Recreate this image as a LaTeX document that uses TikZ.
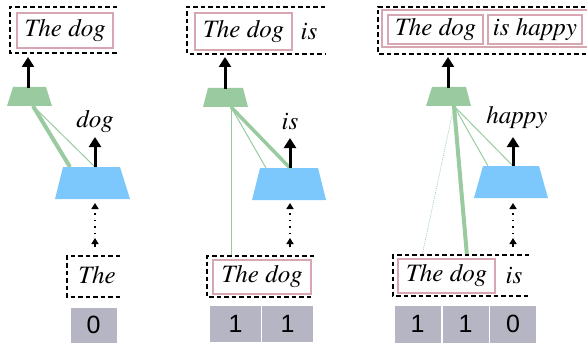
\documentclass[tikz,border=0pt]{standalone}
\usepackage[T1]{fontenc}
\usepackage{fontspec}
\newfontfamily\digitfont{Liberation Sans}
\newcommand\tmsit{\fontencoding{T1}\fontfamily{ptm}\fontshape{it}\selectfont}
\usetikzlibrary{arrows.meta}
\definecolor{gr}{HTML}{9ACBA0}
\definecolor{bl}{HTML}{7CC8FC}
\definecolor{pk}{HTML}{D6A7B0}
\definecolor{cellgray}{HTML}{B5B5C4}
\begin{document}
\begin{tikzpicture}[x=1pt,y=-1pt,
  txt/.style={font=\tmsit\fontsize{25}{30}\selectfont, inner sep=0pt},
  pinkbox/.style={draw=pk, line width=1.6pt, inner sep=0pt, font=\tmsit\fontsize{25}{30}\selectfont},
  dbox/.style={draw=black, line width=2pt, dash pattern=on 4.5pt off 3pt},
  cell/.style={fill=cellgray, draw=white, line width=1pt, inner sep=0pt, font=\digitfont\fontsize{25}{30}\selectfont},
  bigarrow/.style={line width=3pt, -{Triangle[length=10pt,width=12pt]}},
  dotline/.style={line width=1.5pt, dash pattern=on 1.5pt off 5pt, -{Triangle[length=6pt,width=7pt]}},
  smallarrow/.style={line width=1.5pt, -{Triangle[length=6pt,width=7pt]}},
  thick gr/.style={draw=gr, line width=4pt},
  thin gr/.style={draw=gr, line width=1pt},
  hair gr/.style={draw=gr, line width=0.6pt, dash pattern=on 1pt off 1pt}
]
\useasboundingbox (0,0) rectangle (587,345);
\clip (0,0) rectangle (587,345);

% ================= Panel 1 =================
\draw[dbox] (117,7) -- (10,7) -- (10,53) -- (117,53);
\node[pinkbox, minimum width=96pt, minimum height=35pt] (top1) at (65,30.5) {The dog};
\fill[gr] (13,87) -- (46,87) -- (52,106) -- (7,106) -- cycle;
\coordinate (g1t) at (28,88);
\coordinate (g1b) at (33,106);
\fill[bl] (63,167) -- (120,167) -- (130,199) -- (55,199) -- cycle;
\coordinate (b1l) at (70,167);
\coordinate (b1r) at (95,167);
\draw[thick gr] (g1b) -- (b1l);
\draw[thin gr] (g1b) -- (b1r);
\draw[bigarrow] (g1t) -- (28,57);
\draw[bigarrow] (b1r) -- (95,137);
\node[txt, anchor=base] (o1) at (95,128) {dog};
\coordinate (d1s) at (95,247);
\draw[dotline] (d1s) -- (95,203);
\draw[smallarrow] (d1s) -- (95,238);
\draw[dbox] (120,256) -- (67,256) -- (67,297) -- (120,297);
\node[txt, anchor=base] (in1) at (97,283) {The};
\node[cell, minimum width=47pt, minimum height=36pt] (c10) at (93.5,325) {0};

% ================= Panel 2 =================
\draw[dbox] (325,7) -- (187,7) -- (187,54) -- (325,54);
\node[pinkbox, minimum width=97pt, minimum height=37pt] (top2) at (243.5,31.5) {The dog};
\node[txt, anchor=base] (top2b) at (309,40) {is};
\fill[gr] (208,88) -- (243,88) -- (248,107) -- (203,107) -- cycle;
\coordinate (g2t) at (225,89);
\coordinate (g2b) at (231,107);
\fill[bl] (260,168) -- (318,168) -- (326,200) -- (252,200) -- cycle;
\coordinate (b2l) at (266,168);
\coordinate (b2r) at (290,168);
\coordinate (in2t) at (231,257);
\draw[thin gr] (g2b) -- (in2t);
\draw[thin gr] (g2b) -- (b2l);
\draw[draw=gr, line width=3.5pt] (g2b) -- (b2r);
\draw[bigarrow] (g2t) -- (225,57);
\draw[bigarrow] (b2r) -- (290,138);
\node[txt, anchor=base] (o2) at (290,129) {is};
\coordinate (d2s) at (290,247);
\draw[dotline] (d2s) -- (290,203);
\draw[smallarrow] (d2s) -- (290,238);
\draw[dbox] (314,256) -- (207,256) -- (207,297) -- (314,297);
\node[pinkbox, minimum width=98pt, minimum height=34pt] (in2) at (262,277) {The dog};
\node[cell, minimum width=52pt, minimum height=37pt] (c20) at (235.5,323.5) {1};
\node[cell, minimum width=52pt, minimum height=37pt] (c21) at (287.5,323.5) {1};

% ================= Panel 3 =================
\draw[dbox] (600,7) -- (378,7) -- (378,54) -- (600,54);
\draw[draw=pk, line width=1.6pt] (600,10) -- (382,10) -- (382,47) -- (600,47);
\node[pinkbox, minimum width=95pt, minimum height=29pt] (top3a) at (435.5,29.5) {The dog};
\node[pinkbox, minimum width=94pt, minimum height=29pt] (top3b) at (535,29.5) {is happy};
\fill[gr] (432,87) -- (466,87) -- (471,106) -- (426,106) -- cycle;
\coordinate (g3t) at (448,88);
\coordinate (g3b) at (454,106);
\fill[bl] (483,166) -- (539,166) -- (548,198) -- (474,198) -- cycle;
\coordinate (b3l) at (488,166);
\coordinate (b3r) at (513,166);
\coordinate (in3a) at (422,256);
\coordinate (in3b) at (467,256);
\draw[hair gr] (g3b) -- (in3a);
\draw[thick gr] (g3b) -- (in3b);
\draw[thin gr] (g3b) -- (b3l);
\draw[thin gr] (g3b) -- (b3r);
\draw[bigarrow] (g3t) -- (448,57);
\draw[bigarrow] (b3r) -- (513,137);
\node[txt, anchor=base] (o3) at (517,124) {happy};
\coordinate (d3s) at (513,247);
\draw[dotline] (d3s) -- (513,203);
\draw[smallarrow] (d3s) -- (513,238);
\draw[dbox] (529,255) -- (393,255) -- (393,296) -- (529,296);
\node[pinkbox, minimum width=97pt, minimum height=34pt] (in3) at (446.5,276) {The dog};
\node[txt, anchor=base] (in3i) at (514,283) {is};
\node[cell, minimum width=47pt, minimum height=38pt] (c30) at (417.5,324) {1};
\node[cell, minimum width=47pt, minimum height=38pt] (c31) at (465.5,324) {1};
\node[cell, minimum width=47pt, minimum height=38pt] (c32) at (513,324) {0};
\end{tikzpicture}
\end{document}
